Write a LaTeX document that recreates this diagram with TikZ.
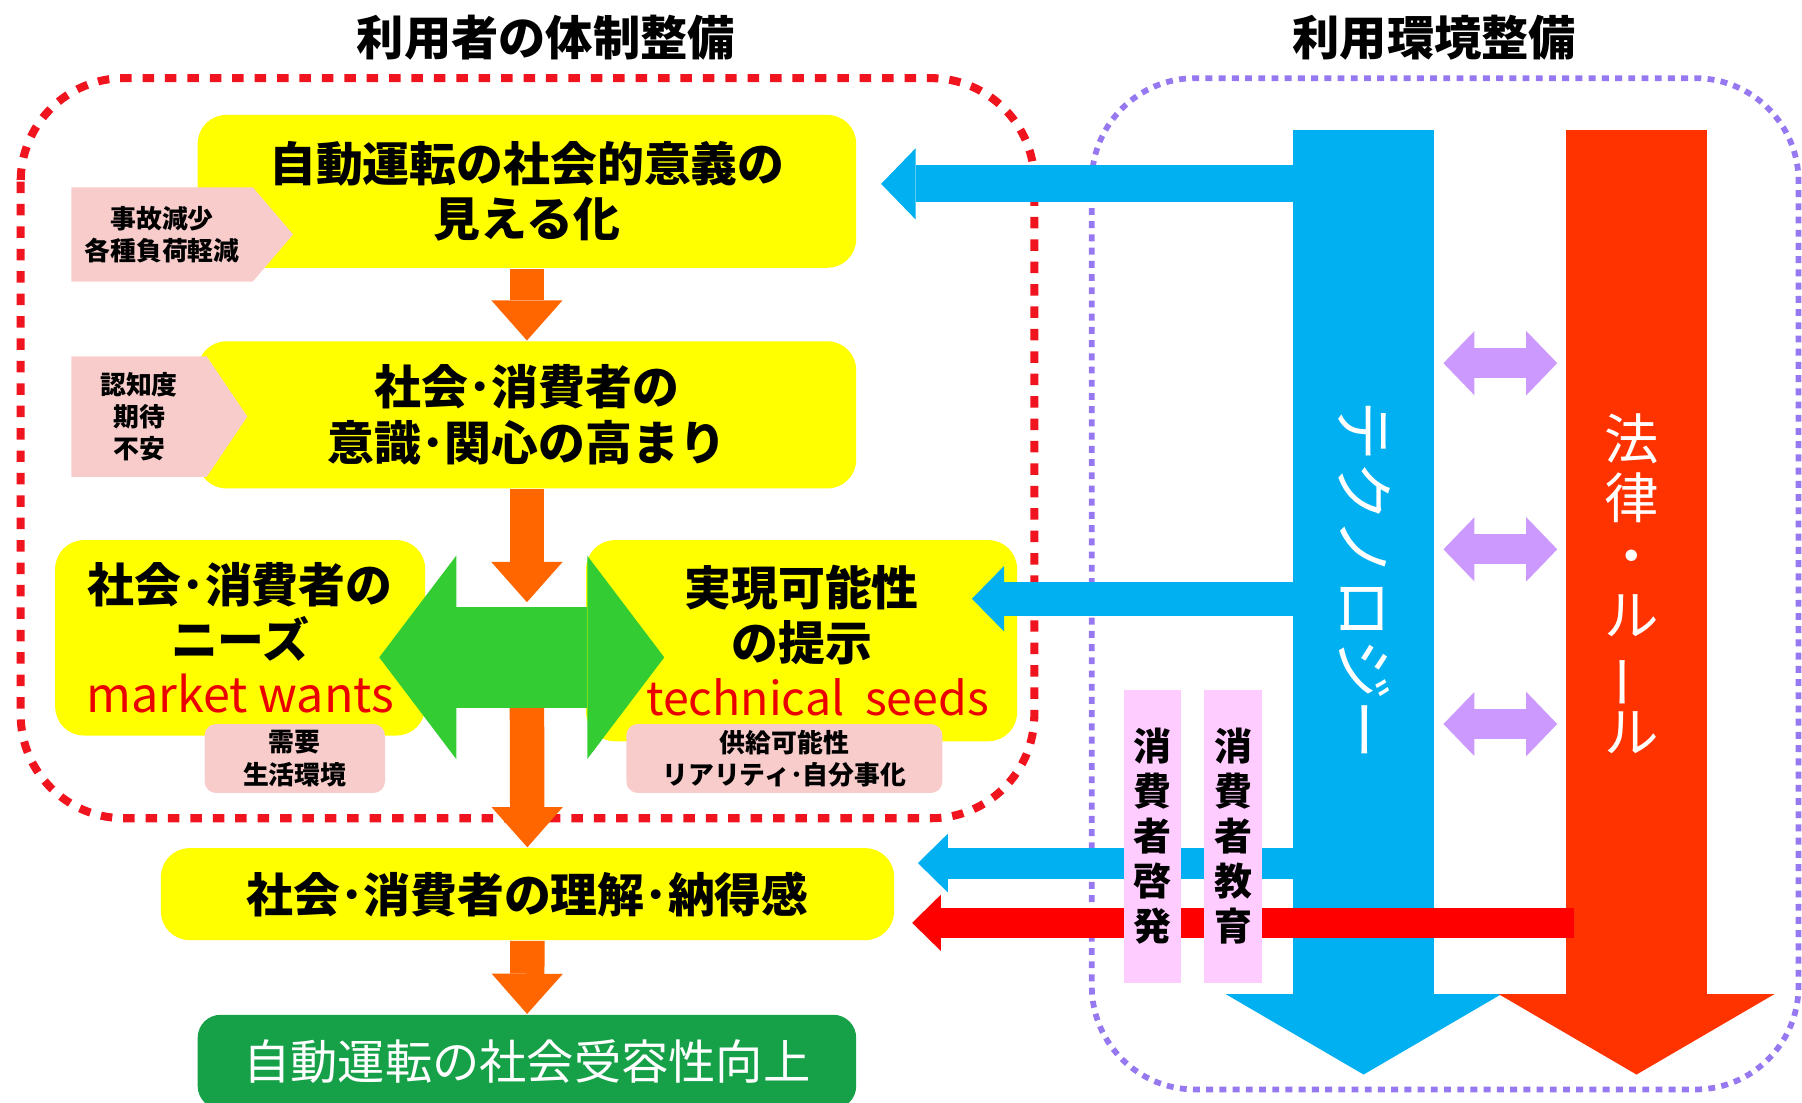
\documentclass[tikz,border=0pt]{standalone}
\usepackage{fontspec}
\setmainfont{Noto Sans CJK JP}
\usetikzlibrary{shapes.symbols, arrows.meta, calc}

\definecolor{boxyellow}{RGB}{255,255,0}
\definecolor{tagpink}{RGB}{249,204,204}
\definecolor{edupink}{RGB}{255,204,255}
\definecolor{floworange}{RGB}{255,102,0}
\definecolor{flowgreen}{RGB}{51,204,51}
\definecolor{goalgreen}{RGB}{22,160,72}
\definecolor{techblue}{RGB}{0,176,240}
\definecolor{rulered}{RGB}{255,51,0}
\definecolor{barred}{RGB}{255,0,0}
\definecolor{wantred}{RGB}{235,0,0}
\definecolor{linklavender}{RGB}{204,153,255}
\definecolor{dotred}{RGB}{240,20,30}
\definecolor{dotpurple}{RGB}{150,120,240}

\newcommand{\redword}[1]{{\color{wantred}\fontsize{12}{13.7}\selectfont\mdseries #1}}

\tikzstyle{titletext} = [font=\fontsize{11.7}{14}\selectfont\bfseries]
\tikzstyle{mainbox} = [rectangle, rounded corners=0.25cm, fill=boxyellow, align=center, inner sep=0pt, font=\fontsize{11.6}{13.7}\selectfont\bfseries]
\tikzstyle{goalbox} = [rectangle, rounded corners=0.2cm, fill=goalgreen, text=white, minimum width=5.73cm, minimum height=0.82cm, font=\fontsize{11.7}{14}\selectfont]
\tikzstyle{tag} = [signal, signal to=east, fill=tagpink, align=center, inner sep=0pt, font=\fontsize{6.4}{8}\selectfont\bfseries]
\tikzstyle{notebox} = [rectangle, rounded corners=0.1cm, fill=tagpink, align=center, inner sep=0pt, minimum height=0.6cm, font=\fontsize{6.4}{8}\selectfont\bfseries]
\tikzstyle{edubox} = [rectangle, fill=edupink, minimum width=0.5cm, minimum height=2.55cm, inner sep=0pt, align=center, font=\fontsize{9.4}{11.1}\selectfont\bfseries]
\tikzstyle{techtext} = [rotate=-90, text=white, font=\fontsize{15}{17}\selectfont]
\tikzstyle{ruletext} = [align=center, text=white, font=\fontsize{13.5}{14.5}\selectfont]
\tikzstyle{flowarrow} = [line width=0.3cm, draw=floworange, -{Triangle[length=0.35cm, width=0.62cm, line width'=0pt]}]
\tikzstyle{bothway} = [line width=0.88cm, draw=flowgreen, {Triangle[length=0.67cm, width=1.77cm, line width'=0pt]}-{Triangle[length=0.67cm, width=1.77cm, line width'=0pt]}]
\tikzstyle{techbar} = [line width=1.23cm, draw=techblue, -{Triangle[length=0.7cm, width=2.4cm, line width'=0pt]}]
\tikzstyle{rulebar} = [line width=1.23cm, draw=rulered, -{Triangle[length=0.7cm, width=2.4cm, line width'=0pt]}]
\tikzstyle{techlink} = [line width=0.31cm, draw=techblue, -{Triangle[length=0.3cm, width=0.62cm, line width'=0pt]}]
\tikzstyle{rulelink} = [line width=0.26cm, draw=barred, -{Triangle[length=0.25cm, width=0.49cm, line width'=0pt]}]
\tikzstyle{interplay} = [line width=0.26cm, draw=linklavender, {Triangle[length=0.27cm, width=0.56cm, line width'=0pt]}-{Triangle[length=0.27cm, width=0.56cm, line width'=0pt]}]
\tikzstyle{userframe} = [draw=dotred, line width=0.07cm, dash pattern=on 0.1cm off 0.095cm, rounded corners=0.9cm]
\tikzstyle{envframe} = [draw=dotpurple, line width=0.05cm, dash pattern=on 0.06cm off 0.055cm, rounded corners=0.9cm]

\begin{document}
\begin{tikzpicture}[x=1cm, y=-1cm]
		\useasboundingbox (0,0) rectangle (15.68,9.59);
		
		% frames and titles
		\draw [userframe] (0.18,0.68) rectangle (9.0,7.12);
		\draw [envframe] (9.5,0.68) rectangle (15.65,9.48);
		\node (usertitle) [titletext] at (4.75,0.33) {利用者の体制整備};
		\node (envtitle) [titletext] at (12.48,0.33) {利用環境整備};
		
		% left flow
		\node (merit) [mainbox, minimum width=5.73cm, minimum height=1.33cm] at (4.585,1.665) {自動運転の社会的意義の\\見える化};
		\node (aware) [mainbox, minimum width=5.73cm, minimum height=1.28cm] at (4.585,3.61) {社会･消費者の\\意識･関心の高まり};
		\node (needs) [mainbox, minimum width=3.22cm, minimum height=1.70cm] at (2.09,5.55) {社会･消費者の\\ニーズ\\\redword{market wants}};
		\node (seeds) [mainbox, minimum width=3.75cm, minimum height=1.75cm] at (6.975,5.575) {実現可能性\\の提示\\\hspace*{0.28cm}{\color{wantred}\fontsize{11.5}{13.7}\selectfont\mdseries technical~~seeds}};
		\node (accept) [mainbox, minimum width=6.38cm, minimum height=0.8cm] at (4.59,7.78) {社会･消費者の理解･納得感};
		\node (goal) [goalbox] at (4.585,9.24) {自動運転の社会受容性向上};
		
		\node (effect) [tag, minimum width=1.93cm, minimum height=0.82cm, signal pointer angle=99] at (1.41,2.04) {事故減少\\各種負荷軽減};
		\node (concern) [tag, minimum width=1.53cm, minimum height=1.05cm, signal pointer angle=112] at (1.21,3.625) {認知度\\期待\\不安};
		\node (demand) [notebox, minimum width=1.57cm] at (2.565,6.6) {需要\\生活環境};
		\node (supply) [notebox, minimum width=2.75cm] at (6.825,6.6) {供給可能性\\リアリティ･自分事化};
		
		\coordinate (joinup) at (4.585,5.24);
		\coordinate (joindown) at (4.585,6.10);
		\draw [flowarrow] (merit) -- (aware);
		\draw [flowarrow] (aware) -- (joinup);
		\draw [flowarrow] (joindown) -- (accept);
		\draw [flowarrow] (accept) -- (goal);
		
		\coordinate (needtip) at (3.30,5.72);
		\coordinate (seedtip) at (5.78,5.72);
		\draw [bothway] (needtip) -- (seedtip);
		
		% technology and rules
		\coordinate (link1) at (11.4,1.6);
		\coordinate (link2) at (11.4,5.21);
		\coordinate (link3) at (11.4,7.51);
		\coordinate (link4) at (13.7,8.03);
		\draw [techlink, line width=0.32cm] (link1) -- ($(link1 -| merit.east)+(0.21,0)$);
		\draw [techlink, line width=0.30cm, -{Triangle[length=0.28cm, width=0.57cm, line width'=0pt]}] (link2) -- ($(link2 -| seeds.east)+(-0.40,0)$);
		\draw [techlink, line width=0.27cm, -{Triangle[length=0.26cm, width=0.51cm, line width'=0pt]}] (link3) -- ($(link3 -| accept.east)+(0.2,0)$);
		
		\coordinate (techtop) at (11.865,1.13);
		\coordinate (techtip) at (11.865,9.35);
		\coordinate (ruletop) at (14.24,1.13);
		\coordinate (ruletip) at (14.24,9.35);
		\draw [techbar] (techtop) -- (techtip);
		\draw [rulebar] (ruletop) -- (ruletip);
		\draw [rulelink] (link4) -- ($(link4 -| accept.east)+(0.15,0)$);
		
		\foreach \y in {3.16,4.78,6.3}
			\draw [interplay] (12.56,\y) -- (13.55,\y);
		
		\node (techlabel) [techtext] at (11.87,5.05) {テクノロジー};
		\node (rulelabel) [ruletext] at (14.2,5.08) {法\\律\\・\\ル\\\rotatebox[origin=c]{90}{ー}\\ル};
		
		\node (enlight) [edubox] at (10.03,7.275) {消\\費\\者\\啓\\発};
		\node (educate) [edubox] at (10.73,7.275) {消\\費\\者\\教\\育};
\end{tikzpicture}
\end{document}
